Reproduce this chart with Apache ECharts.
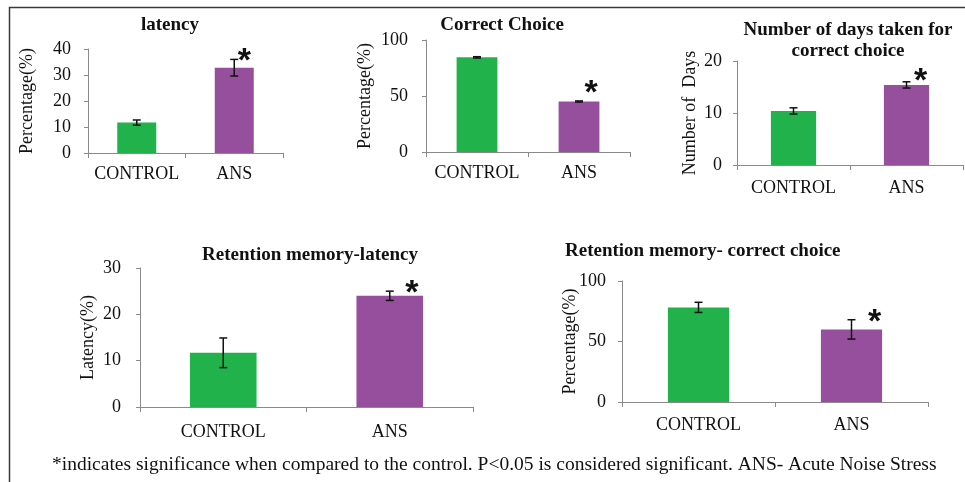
<!DOCTYPE html>
<html>
<head>
<meta charset="utf-8">
<style>html,body{margin:0;padding:0;background:#fff;}#c{width:965px;height:482px;}</style>
<script src="https://cdn.jsdelivr.net/npm/echarts@6/dist/echarts.min.js"></script>
</head>
<body>
<div id="c"></div>
<script>
// ---- data ----
const categories = ['CONTROL', 'ANS'];
const significant = [false, true];

const latencyMean = [11.7, 32.8];
const latencyErr = [1.0, 3.2];
const correctMean = [84.5, 45.1];
const correctErr = [0.6, 0.5];
const daysMean = [10.4, 15.4];
const daysErr = [0.6, 0.6];
const retLatencyMean = [11.7, 24.0];
const retLatencyErr = [3.2, 1.0];
const retCorrectMean = [78.2, 60.0];
const retCorrectErr = [4.2, 8.0];

const panelTitles = ['latency', 'Correct Choice', 'Number of days taken for\ncorrect choice', 'Retention memory-latency', 'Retention memory- correct choice'];
const yAxisNames = ['Percentage(%)', 'Percentage(%)', 'Number of  Days', 'Latency(%)', 'Percentage(%)'];
const yMaxes = [40, 100, 20, 30, 100];
const yIntervals = [10, 50, 10, 10, 50];
const footnote = '*indicates significance when compared to the control. P<0.05 is considered significant. ANS- Acute Noise Stress';

const means = [latencyMean, correctMean, daysMean, retLatencyMean, retCorrectMean];
const errs = [latencyErr, correctErr, daysErr, retLatencyErr, retCorrectErr];

// ---- layout / style ----
const grids = [
  {left: 88, top: 49, width: 195, height: 104},
  {left: 426, top: 40, width: 204, height: 112},
  {left: 737, top: 61, width: 226, height: 104},
  {left: 140, top: 268, width: 333, height: 139},
  {left: 622, top: 281, width: 306, height: 121}
];
const nameGaps = [52, 52, 38, 43, 43];
const yLabelMargins = [17, 18, 15, 19, 16];
const xLabelMargins = [12, 12, 14, 16, 14];
const titlePos = [
  {left: 165, top: 9.5, textAlign: 'center'},
  {left: 497, top: 9.5, textAlign: 'center'},
  {left: 843, top: 14.5, textAlign: 'center'},
  {left: 305, top: 239.5, textAlign: 'center'},
  {left: 560, top: 235.5, textAlign: 'left'}
];
const starOffsets = [[10, 2], [12, -7], [14, 0], [22, 2], [23, 3]];
const barColors = ['#21b24c', '#954f9d'];
const serif = '"Liberation Serif", "Times New Roman", serif';
const axisGray = '#8a8a8a';

const option = {
  animation: false,
  backgroundColor: '#fff',
  title: panelTitles.map((t, i) => Object.assign({
    text: t,
    textStyle: {fontFamily: serif, fontWeight: 'bold', fontSize: 19, color: '#111', lineHeight: 21}
  }, titlePos[i])),
  grid: grids,
  xAxis: grids.map((g, i) => ({
    type: 'category', gridIndex: i, data: categories,
    axisLine: {lineStyle: {color: axisGray, width: 1}},
    axisTick: {show: true, alignWithLabel: false, length: 5, lineStyle: {color: axisGray}},
    axisLabel: {interval: 0, fontFamily: serif, fontSize: 18, color: '#111', margin: xLabelMargins[i]}
  })),
  yAxis: grids.map((g, i) => ({
    type: 'value', gridIndex: i, min: 0, max: yMaxes[i], interval: yIntervals[i],
    name: yAxisNames[i], nameLocation: 'middle', nameRotate: 90, nameGap: nameGaps[i],
    nameMoveOverlap: false,
    nameTextStyle: {fontFamily: serif, fontSize: 18, color: '#111'},
    axisLine: {show: true, lineStyle: {color: axisGray, width: 1}},
    axisTick: {show: true, length: 4, lineStyle: {color: axisGray}},
    splitLine: {show: false},
    axisLabel: {fontFamily: serif, fontSize: 18, color: '#111', margin: yLabelMargins[i]}
  })),
  series: [],
  graphic: [
    {type: 'polyline', shape: {points: [[9.5, 482], [9.5, 7.5], [965, 7.5]]}, style: {stroke: '#3a3a3a', lineWidth: 1.5, fill: null}},
    {type: 'text', left: 52, top: 455, style: {text: footnote, font: '19.5px ' + serif, fill: '#111'}}
  ]
};

means.forEach((m, i) => {
  option.series.push({
    type: 'bar', xAxisIndex: i, yAxisIndex: i, barWidth: '40%',
    data: m.map((v, j) => ({value: v, itemStyle: {color: barColors[j]}}))
  });
  option.series.push({
    type: 'custom', xAxisIndex: i, yAxisIndex: i, z: 5,
    data: m.map((v, j) => [j, v, errs[i][j], significant[j] ? 1 : 0]),
    encode: {x: 0, y: 1},
    renderItem: function (params, api) {
      const x = api.value(0), v = api.value(1), e = api.value(2), sig = api.value(3);
      const top = api.coord([x, v + e]);
      const bot = api.coord([x, v - e]);
      const cap = 4;
      const ls = {stroke: '#111', lineWidth: 1.5};
      const children = [
        {type: 'line', shape: {x1: top[0], y1: top[1], x2: bot[0], y2: bot[1]}, style: ls},
        {type: 'line', shape: {x1: top[0] - cap, y1: top[1], x2: top[0] + cap, y2: top[1]}, style: ls},
        {type: 'line', shape: {x1: bot[0] - cap, y1: bot[1], x2: bot[0] + cap, y2: bot[1]}, style: ls}
      ];
      if (sig) {
        const off = starOffsets[i];
        children.push({type: 'text', style: {
          text: '*', x: top[0] + off[0], y: top[1] + off[1],
          font: 'bold 34px "Liberation Sans", Arial, sans-serif', fill: '#111',
          textAlign: 'center', textVerticalAlign: 'middle'
        }});
      }
      return {type: 'group', children: children};
    }
  });
});

const chart = echarts.init(document.getElementById('c'), null, {renderer: 'canvas'});
chart.setOption(option);
</script>
</body>
</html>
